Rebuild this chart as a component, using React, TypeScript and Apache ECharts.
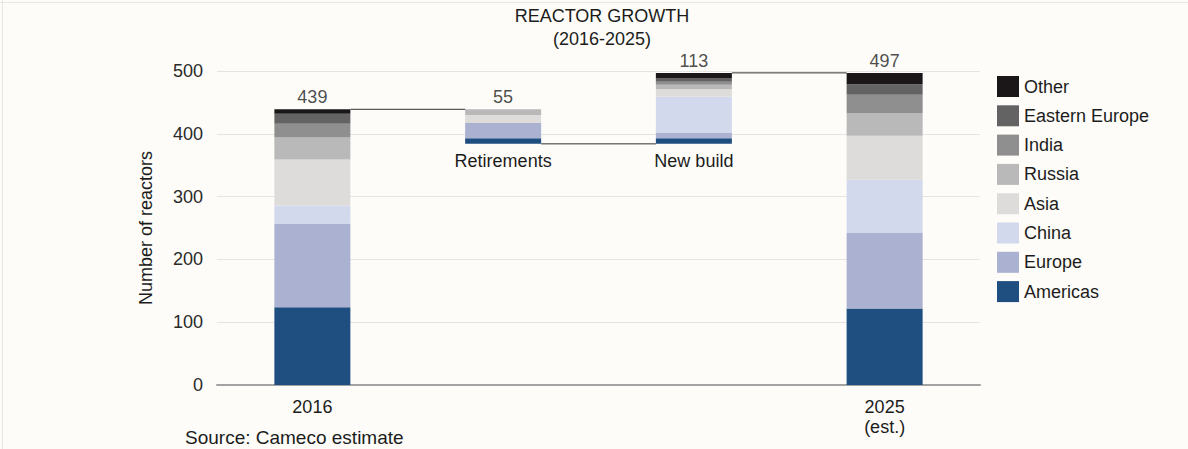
import React, { useEffect, useRef } from "react";
import * as echarts from "echarts";

const categories = ["2016", "Retirements", "New build", "2025"];
const axisLabels = ["2016", "", "", "2025\n(est.)"];
const barNotes = ["", "Retirements", "New build", ""];
const barKinds = ["total", "minus", "plus", "total"];

const americas = [124, 9, 9, 122];
const europe = [133, 24, 9, 120];
const china = [29, 0, 57, 85];
const asia = [73, 13, 12, 70];
const russia = [35, 9, 7, 36];
const india = [22, 0, 5, 29];
const easternEurope = [16, 0, 5, 17];
const other = [7, 0, 9, 18];

const seriesNames = ["Americas", "Europe", "China", "Asia", "Russia", "India", "Eastern Europe", "Other"];
const seriesValues = [americas, europe, china, asia, russia, india, easternEurope, other];
const seriesColors = ["#1f4e80", "#abb1d0", "#d3d9ec", "#dedcda", "#b9b9b9", "#8f8f8f", "#636363", "#1b1718"];

const FONT = "'Liberation Sans', Arial, Helvetica, sans-serif";
const TEXT = "#1c1c1c";
const BAR_WIDTH = 76;

export default function App() {
  const ref = useRef<HTMLDivElement>(null);

  useEffect(() => {
    if (!ref.current) return;
    const chart = echarts.init(ref.current, undefined, { renderer: "svg" });

    const totals = categories.map((_, i) => seriesValues.reduce((s, arr) => s + arr[i], 0));
    const base: number[] = [];
    const after: number[] = [];
    let running = 0;
    categories.forEach((_, i) => {
      const k = barKinds[i];
      if (k === "total") {
        base.push(0);
        running = totals[i];
      } else if (k === "minus") {
        running -= totals[i];
        base.push(running);
      } else {
        base.push(running);
        running += totals[i];
      }
      after.push(running);
    });
    const tops = categories.map((_, i) => base[i] + totals[i]);
    const connectors = categories.slice(0, -1).map((_, i) => [i, after[i]]);

    const option: any = {
      animation: false,
      backgroundColor: "#fdfcf8",
      textStyle: { fontFamily: FONT },
      title: {
        text: "REACTOR GROWTH",
        subtext: "(2016-2025)",
        left: 597,
        top: 2,
        textAlign: "center",
        itemGap: 5,
        textStyle: { fontSize: 18, fontWeight: "normal", color: TEXT, fontFamily: FONT },
        subtextStyle: { fontSize: 18, color: TEXT, fontFamily: FONT },
      },
      legend: {
        orient: "vertical",
        left: 992,
        top: 71,
        itemWidth: 22,
        itemHeight: 21,
        itemGap: 8.3,
        icon: "rect",
        selectedMode: false,
        data: seriesNames.slice().reverse(),
        textStyle: { fontSize: 18, color: TEXT, fontFamily: FONT },
      },
      grid: { left: 217, right: 208, top: 71, bottom: 64, containLabel: false },
      xAxis: {
        type: "category",
        data: categories,
        axisLine: { lineStyle: { color: "#a3a3a3", width: 2 } },
        axisTick: { show: false },
        axisLabel: {
          margin: 12,
          fontSize: 18,
          lineHeight: 20,
          color: TEXT,
          fontFamily: FONT,
          formatter: (_v: string, i: number) => axisLabels[i],
        },
      },
      yAxis: {
        type: "value",
        min: 0,
        max: 500,
        interval: 100,
        name: "Number of reactors",
        nameLocation: "middle",
        nameGap: 62,
        nameTextStyle: { fontSize: 18, color: TEXT, fontFamily: FONT },
        axisLine: { show: false },
        axisTick: { show: false },
        axisLabel: { margin: 14, fontSize: 18, color: "#2a2a2a", fontFamily: FONT },
        splitLine: { lineStyle: { color: "#e4e4e4", width: 1 } },
      },
      graphic: [
        {
          type: "text",
          left: 185,
          top: 428,
          style: { text: "Source: Cameco estimate", fontSize: 19, fill: TEXT, fontFamily: FONT },
        },
        { type: "line", shape: { x1: 0, y1: 2.5, x2: 1188, y2: 2.5 }, style: { stroke: "#ece6e3", lineWidth: 1 } },
        { type: "line", shape: { x1: 2.5, y1: 0, x2: 2.5, y2: 449 }, style: { stroke: "#ece6e3", lineWidth: 1 } },
      ],
      series: [
        {
          name: "base",
          type: "bar",
          stack: "all",
          barWidth: BAR_WIDTH,
          silent: true,
          data: base,
          itemStyle: { color: "transparent" },
          label: {
            show: true,
            position: "insideTop",
            distance: 8,
            fontSize: 18,
            color: TEXT,
            fontFamily: FONT,
            formatter: (p: any) => barNotes[p.dataIndex],
          },
        },
        ...seriesNames.map((name, si) => ({
          name,
          type: "bar",
          stack: "all",
          barWidth: BAR_WIDTH,
          silent: true,
          data: seriesValues[si],
          itemStyle: { color: seriesColors[si] },
        })),
        {
          name: "totals",
          type: "scatter",
          symbolSize: 0,
          silent: true,
          data: tops,
          z: 5,
          label: {
            show: true,
            position: "top",
            distance: 3,
            fontSize: 18,
            color: TEXT,
            fontFamily: FONT,
            formatter: (p: any) => String(totals[p.dataIndex]),
          },
        },
        {
          name: "connectors",
          type: "custom",
          silent: true,
          z: 4,
          data: connectors,
          renderItem: (_params: any, api: any) => {
            const i = api.value(0);
            const y = api.value(1);
            const p0 = api.coord([i, y]);
            const p1 = api.coord([i + 1, y]);
            const hw = BAR_WIDTH / 2;
            return {
              type: "line",
              shape: { x1: p0[0] + hw, y1: p0[1], x2: p1[0] - hw, y2: p1[1] },
              style: { stroke: "#333", lineWidth: 1 },
            };
          },
        },
      ],
    };

    chart.setOption(option);
    return () => chart.dispose();
  }, []);

  return (
    <div
      ref={ref}
      style={{ position: "fixed", left: 0, top: 0, width: 1188, height: 449, background: "#fdfcf8" }}
    />
  );
}
